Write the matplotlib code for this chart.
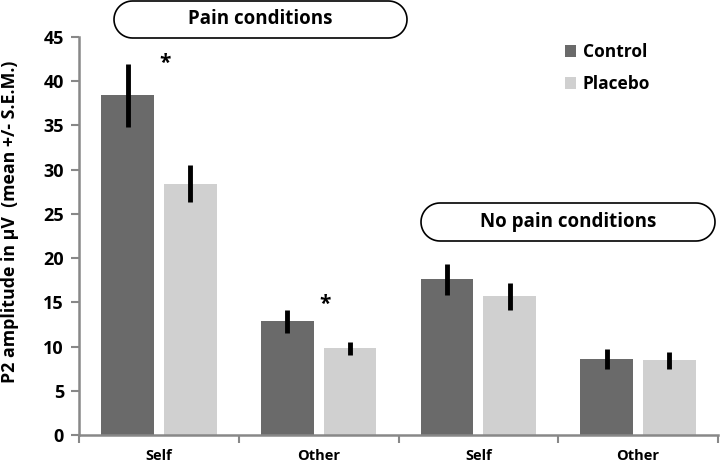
import numpy as np
import matplotlib.pyplot as plt
from matplotlib.patches import PathPatch
from matplotlib.path import Path
from matplotlib.transforms import IdentityTransform

plt.rcParams['font.family'] = ['Open Sans', 'DejaVu Sans']
plt.rcParams['font.weight'] = 'bold'

categories = ['Self', 'Other', 'Self', 'Other']
control = [38.4, 12.9, 17.6, 8.6]
control_err = [3.6, 1.3, 1.75, 1.1]
placebo = [28.4, 9.8, 15.7, 8.45]
placebo_err = [2.1, 0.7, 1.5, 0.95]
group_labels = ['Pain conditions', 'No pain conditions']

dark = '#6a6a6a'
light = '#d0d0d0'
spine_col = '#888888'

fig = plt.figure(figsize=(7.2, 4.62), dpi=100)
ax = fig.add_axes([0.11, 0.058, 0.887, 0.862])

x = np.arange(len(categories))
w = 0.33
off = 0.197
ax.bar(x - off, control, w, color=dark, label='Control')
ax.bar(x + off, placebo, w, color=light, label='Placebo')
ax.errorbar(x - off, control, yerr=control_err, fmt='none', ecolor='black',
            elinewidth=3.5, capsize=0)
ax.errorbar(x + off, placebo, yerr=placebo_err, fmt='none', ecolor='black',
            elinewidth=3.5, capsize=0)

ax.set_xlim(-0.5, 3.5)
ax.set_ylim(0, 45)
ax.set_yticks(np.arange(0, 46, 5))
ax.set_xticks(np.arange(-0.5, 3.6, 1))
ax.set_xticklabels([])
ax.set_xticks(x, minor=True)
ax.set_xticklabels(categories, minor=True, fontsize=10.5, fontweight='bold')
ax.tick_params(axis='x', which='minor', length=0, pad=10)
ax.tick_params(axis='x', which='major', length=6, width=1.5, color=spine_col, direction='out')
ax.tick_params(axis='y', length=6, width=1.5, color=spine_col, labelsize=13, pad=5)
for lbl in ax.get_yticklabels():
    lbl.set_fontweight('bold')

for s in ['top', 'right']:
    ax.spines[s].set_visible(False)
for s in ['left', 'bottom']:
    ax.spines[s].set_color(spine_col)
    ax.spines[s].set_linewidth(1.8)

ax.set_ylabel('P2 amplitude in µV  (mean +/- S.E.M.)', fontsize=12.8, fontweight='bold')
ax.yaxis.set_label_coords(-0.094, 0.535)

# significance stars
ax.text(0 + 0.04, 42.0, '*', fontsize=15, fontweight='bold', ha='center', va='center')
ax.text(1 + 0.04, 14.8, '*', fontsize=15, fontweight='bold', ha='center', va='center')

leg = ax.legend(loc='upper left', bbox_to_anchor=(0.76, 0.985), frameon=False,
                prop={'weight': 'bold', 'size': 12.5}, handlelength=0.65, handleheight=0.65,
                handletextpad=0.4, labelspacing=0.8, borderpad=0, borderaxespad=0)


def stadium(x0, y0, x1, y1, n=30):
    r = (y1 - y0) / 2
    cy = (y0 + y1) / 2
    t = np.linspace(-np.pi / 2, np.pi / 2, n)
    right = np.column_stack([x1 - r + r * np.cos(t), cy + r * np.sin(t)])
    left = np.column_stack([x0 + r - r * np.cos(t), cy - r * np.sin(t)])
    pts = np.vstack([right, left, right[:1]])
    codes = [Path.MOVETO] + [Path.LINETO] * (len(pts) - 2) + [Path.CLOSEPOLY]
    return Path(pts, codes)


# rounded group boxes, pixel coords (top-left origin)
boxes = [(114, 1, 407, 38), (421, 203, 715, 241)]
for (x0, y0, x1, y1), txt in zip(boxes, group_labels):
    path = stadium(x0, 462 - y1, x1, 462 - y0)
    patch = PathPatch(path, transform=IdentityTransform(), facecolor='white',
                      edgecolor='black', linewidth=1.2)
    fig.add_artist(patch)
    fig.text((x0 + x1) / 2 / 720, 1 - (y0 + y1) / 2 / 462, txt, ha='center', va='center',
             fontsize=13.5, fontweight='bold')

fig.savefig('out.png', dpi=100)
